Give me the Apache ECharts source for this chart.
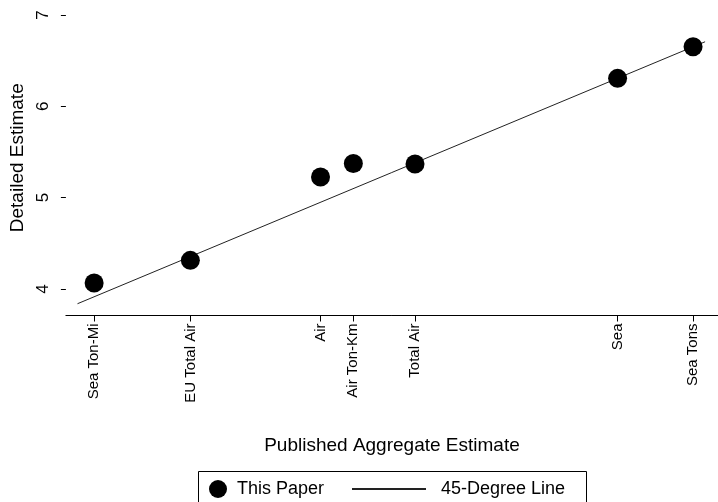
<!DOCTYPE html>
<html>
<head>
<meta charset="utf-8">
<script src="https://cdn.jsdelivr.net/npm/echarts@6/dist/echarts.min.js"></script>
<style>
html,body{margin:0;padding:0;background:#fff;}
#chart{width:718px;height:502px;}
</style>
</head>
<body>
<div id="chart"></div>
<script>
// Data
const categories = ['Sea Ton-Mi', 'EU Total Air', 'Air', 'Air Ton-Km', 'Total Air', 'Sea', 'Sea Tons'];
const publishedEstimate = [3.914, 4.354, 4.949, 5.099, 5.381, 6.307, 6.652];
const detailedEstimate = [4.064, 4.313, 5.226, 5.373, 5.369, 6.306, 6.652];
const lineRange = [3.838, 6.707];
const yTickValues = [4, 5, 6, 7];

const FONT = '"Liberation Sans", Arial, sans-serif';

function labelFor(v) {
  let best = 0, bd = Infinity;
  publishedEstimate.forEach((p, i) => { const d = Math.abs(p - v); if (d < bd) { bd = d; best = i; } });
  return categories[best];
}

const chart = echarts.init(document.getElementById('chart'), null, {renderer: 'canvas'});
chart.setOption({
  backgroundColor: '#ffffff',
  animation: false,
  textStyle: {fontFamily: FONT, color: '#000'},
  grid: {left: 62, right: 0, top: 15, bottom: 186.5, containLabel: false},
  xAxis: {
    type: 'value',
    min: 3.785, max: 6.766,
    name: 'Published Aggregate Estimate',
    nameLocation: 'middle',
    nameGap: 121,
    nameTextStyle: {fontSize: 19, color: '#000', fontFamily: FONT},
    splitLine: {show: false},
    axisLine: {show: true, onZero: false, lineStyle: {color: '#000', width: 1}},
    axisTick: {show: true, length: 6, customValues: publishedEstimate, lineStyle: {color: '#000'}},
    axisLabel: {show: true, rotate: 90, margin: 8, fontSize: 15, color: '#000', fontFamily: FONT,
      customValues: publishedEstimate, formatter: labelFor}
  },
  yAxis: {
    type: 'value',
    min: 3.709, max: 7,
    name: 'Detailed Estimate',
    nameLocation: 'middle',
    nameGap: 31,
    nameTextStyle: {fontSize: 19, color: '#000', fontFamily: FONT, padding: [0, 0, 0, 15]},
    splitLine: {show: false},
    axisLine: {show: false},
    axisTick: {show: true, length: 5, customValues: yTickValues, lineStyle: {color: '#000'}},
    axisLabel: {show: true, rotate: 90, margin: 14, fontSize: 17, color: '#000', fontFamily: FONT,
      customValues: yTickValues}
  },
  legend: [
    {
      data: [{name: 'This Paper', icon: 'circle'}],
      left: 204, top: 475,
      itemWidth: 18, itemHeight: 18,
      textStyle: {fontSize: 18, color: '#000', fontFamily: FONT, padding: [0, 0, 0, 5]},
      selectedMode: false
    },
    {
      data: [{name: '45-Degree Line'}],
      left: 346, top: 475,
      itemWidth: 74, itemHeight: 18,
      itemStyle: {opacity: 0},
      textStyle: {fontSize: 18, color: '#000', fontFamily: FONT, padding: [0, 0, 0, 10]},
      selectedMode: false
    }
  ],
  graphic: [{
    type: 'rect', left: 196, top: 469, silent: true,
    shape: {width: 388, height: 31},
    style: {fill: 'none', stroke: '#000', lineWidth: 1}
  }],
  series: [
    {
      name: 'This Paper',
      type: 'scatter',
      symbol: 'circle',
      symbolSize: 19,
      itemStyle: {color: '#000', opacity: 1},
      data: publishedEstimate.map((x, i) => [x, detailedEstimate[i]]),
      z: 3
    },
    {
      name: '45-Degree Line',
      type: 'line',
      symbol: 'none',
      lineStyle: {color: '#222', width: 1},
      itemStyle: {color: '#222'},
      data: lineRange.map(v => [v, v]),
      z: 2
    }
  ]
});
</script>
</body>
</html>
